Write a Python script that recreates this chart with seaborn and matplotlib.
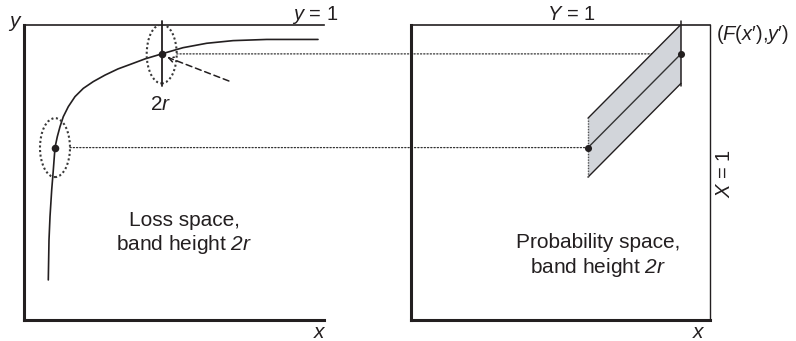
import matplotlib
matplotlib.use("Agg")
import matplotlib.pyplot as plt
import numpy as np
import pandas as pd
import seaborn as sns
from matplotlib.patches import Ellipse, Polygon, ConnectionPatch

# Loss-space curve (x, y)
curve_x = [0.810, 0.833, 0.867, 0.923, 0.977, 1.033, 1.110, 1.200, 1.310, 1.477,
           1.700, 1.977, 2.310, 2.700, 3.133, 3.533, 4.033, 4.590, 5.300, 6.090,
           6.970, 8.090, 9.800]
curve_y = [0.136, 0.271, 0.351, 0.441, 0.509, 0.585, 0.622, 0.656, 0.690, 0.724,
           0.758, 0.786, 0.809, 0.831, 0.852, 0.867, 0.886, 0.903, 0.924, 0.939,
           0.948, 0.952, 0.952]

# The two marked points in loss space (x', y')
loss_x = [1.033, 4.59]
loss_y = [0.585, 0.903]
# The same points in probability space (F(x'), y')
prob_x = [0.592, 0.903]

band_half = 0.10      # r : half of the band height
tick_half = 0.11      # half length of the vertical stroke through the upper point
ellipse_w = 1.0       # width of the dotted ellipses in loss units

# Dashed pointer near the upper point (tail -> head)
pointer_tail = (6.83, 0.811)
pointer_head = (4.77, 0.892)

INK = "#231f20"
BAND = "#d2d5da"

sns.set_theme(style="white")
plt.rcParams["font.family"] = ["Liberation Sans", "DejaVu Sans"]
plt.rcParams["mathtext.fontset"] = "custom"
plt.rcParams["mathtext.rm"] = "Liberation Sans"
plt.rcParams["mathtext.it"] = "Liberation Sans:italic"
plt.rcParams["mathtext.sf"] = "Liberation Sans:italic"
plt.rcParams["text.color"] = INK

W, H = 796, 341
fig = plt.figure(figsize=(W / 100, H / 100), dpi=100)
fig.patch.set_facecolor("white")

top_px, bot_px = 25.3, 320.0


def box(l, r):
    return [l / W, 1 - bot_px / H, (r - l) / W, (bot_px - top_px) / H]


axL = fig.add_axes(box(24, 324))
axR = fig.add_axes(box(411, 710))
axL.set_xlim(0, 10)
axL.set_ylim(0, 1)
axR.set_xlim(0, 1)
axR.set_ylim(0, 1)

for ax in (axL, axR):
    ax.set_facecolor("none")
    ax.set_xticks([])
    ax.set_yticks([])
    for s in ax.spines.values():
        s.set_color(INK)
    ax.spines["left"].set_linewidth(2.2)
    ax.spines["bottom"].set_linewidth(2.2)
    ax.spines["top"].set_linewidth(1.2)
    ax.spines["right"].set_linewidth(1.0)
axL.spines["right"].set_visible(False)

# ---- loss space ----
curve = pd.DataFrame({"x": curve_x, "y": curve_y})
sns.lineplot(data=curve, x="x", y="y", ax=axL, color=INK, linewidth=1.2,
             sort=False, estimator=None)
axL.lines[-1].set_solid_joinstyle("round")

for cx, cy in zip(loss_x, loss_y):
    axL.add_patch(Ellipse((cx, cy), ellipse_w, 2 * band_half, fill=False,
                          edgecolor="#3a3a3a", linewidth=1.5,
                          linestyle=(0, (1, 1.2)), zorder=3))

# vertical stroke through the upper point
axL.plot([loss_x[1], loss_x[1]], [loss_y[1] - tick_half, loss_y[1] + tick_half],
         color=INK, linewidth=1.3, clip_on=False, zorder=4)

axL.annotate("", xy=pointer_head, xytext=pointer_tail,
             arrowprops=dict(arrowstyle="->", color=INK, linewidth=1.1,
                             linestyle=(0, (4, 2.5)), mutation_scale=9,
                             shrinkA=0, shrinkB=0))

sns.scatterplot(x=loss_x, y=loss_y, ax=axL, color=INK, s=30,
                edgecolor=INK, linewidth=0, zorder=5, clip_on=False)

# ---- probability space ----
p0 = (prob_x[0], loss_y[0])
p1 = (prob_x[1], loss_y[1])
band = Polygon([(p0[0], p0[1] - band_half), (p0[0], p0[1] + band_half),
                (p1[0], p1[1] + band_half), (p1[0], p1[1] - band_half)],
               closed=True, facecolor=BAND, edgecolor="none", zorder=2)
axR.add_patch(band)
# upper and lower edges of the band
axR.plot([p0[0], p1[0]], [p0[1] + band_half, p1[1] + band_half],
         color=INK, linewidth=1.0, zorder=3)
axR.plot([p0[0], p1[0]], [p0[1] - band_half, p1[1] - band_half],
         color=INK, linewidth=1.0, zorder=3)
# left edge dotted
axR.plot([p0[0], p0[0]], [p0[1] - band_half, p0[1] + band_half],
         color="#555555", linewidth=1.0, linestyle=(0, (1, 1)), zorder=3)
# centre line of the band
axR.plot([p0[0], p1[0]], [p0[1], p1[1]], color="#333333", linewidth=1.0, zorder=3)
# vertical stroke through the upper point
axR.plot([p1[0], p1[0]], [p1[1] - tick_half, p1[1] + tick_half],
         color=INK, linewidth=1.1, clip_on=False, zorder=4)

sns.scatterplot(x=prob_x, y=loss_y, ax=axR, color=INK, s=26,
                edgecolor=INK, linewidth=0, zorder=5, clip_on=False)

# dotted links from loss space to probability space
for cx, cy, px in zip(loss_x, loss_y, prob_x):
    con = ConnectionPatch(xyA=(cx + ellipse_w / 2, cy), coordsA=axL.transData,
                          xyB=(px, cy), coordsB=axR.transData,
                          color="#333333", linewidth=0.9,
                          linestyle=(0, (1, 1.6)), zorder=-1)
    fig.add_artist(con)


# ---- text ----
def put(px, py, s, **kw):
    fig.text(px / W, 1 - py / H, s, **kw)


FS = 15
put(15, 27, "$y$", fontsize=FS, ha="center", va="baseline")
put(315, 20, "$y$ = 1", fontsize=14.5, ha="center", va="baseline")
put(571, 20, "$Y$ = 1", fontsize=14.5, ha="center", va="baseline")
put(716, 35, "($F$($x$\u2032),$y$\u2032)", fontsize=14.5, ha="left", va="center")
put(724, 174, "$X$ = 1", fontsize=14.5, ha="center", va="center", rotation=90)
put(320, 338, "$x$", fontsize=FS, ha="center", va="baseline")
put(699, 338, "$x$", fontsize=FS, ha="center", va="baseline")
put(161, 110, "2$r$", fontsize=FS, ha="center", va="baseline")

put(184, 226, "Loss space,", fontsize=FS, ha="center", va="baseline")
put(184.5, 250, r"band height $\mathsf{2r}$", fontsize=FS, ha="center", va="baseline")
put(598, 248, "Probability space,", fontsize=FS, ha="center", va="baseline")
put(598.5, 273, r"band height $\mathsf{2r}$", fontsize=FS, ha="center", va="baseline")

fig.savefig("out.png", dpi=100, facecolor="white")
